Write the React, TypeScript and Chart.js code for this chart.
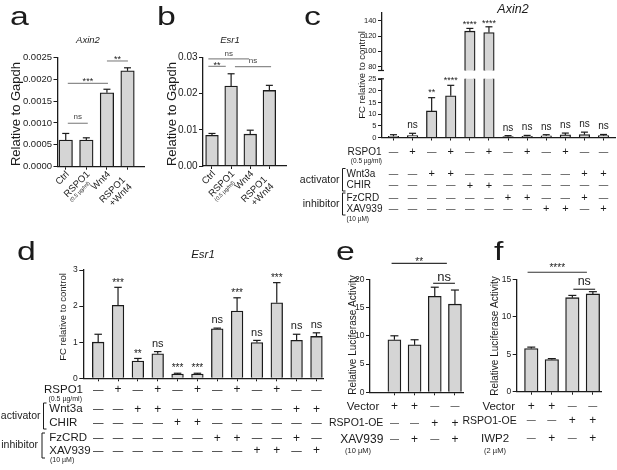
import React, { useEffect, useRef } from "react";
import { Chart, registerables } from "chart.js";

Chart.register(...registerables);

const W = 617;
const H = 470;
const SANS = '"Liberation Sans", Arial, Helvetica, sans-serif';
const INK = "#1b1b1b";
const BAR_FILL = "#d5d5d5";

// ---------------- data ----------------
const abCategories = ["Ctrl", "RSPO1", "Wnt4", "RSPO1\n+Wnt4"];
const abSubLabels = ["", "(0.5 µg/ml)", "", ""];

const aValues = [0.00061, 0.00061, 0.00169, 0.00219];
const aErrors = [0.00015, 0.00005, 0.00008, 0.00007];
const aTicks = [0, 0.0005, 0.001, 0.0015, 0.002, 0.0025];
const aBrackets = [
  { from: 0.1, to: 1.07, y: 0.000992, label: "ns" },
  { from: 0.1, to: 2.05, y: 0.001906, label: "***" },
  { from: 2.0, to: 3.02, y: 0.002416, label: "**" },
];

const bValues = [0.0085, 0.0221, 0.0088, 0.0209];
const bErrors = [0.0005, 0.0034, 0.0011, 0.0014];
const bTicks = [0, 0.01, 0.02, 0.03];
const bBrackets = [
  { from: -0.19, to: 1.94, y: 0.0296, label: "ns" },
  { from: -0.19, to: 0.72, y: 0.02755, label: "**" },
  { from: 1.2, to: 3.09, y: 0.02747, label: "ns" },
];

const cValues = [0.5, 0.8, 11.4, 17.9, 126.3, 124.5, 0.4, 0.5, 0.7, 1.1, 1.2, 0.8];
const cErrors = [0.7, 1.0, 5.7, 4.5, 3.6, 7.5, 0.4, 0.4, 0.5, 0.8, 1.1, 0.5];
const cSig = ["", "ns", "**", "****", "****", "****", "ns", "ns", "ns", "ns", "ns", "ns"];
const cLowerTicks = [0, 5, 10, 15, 20, 25];
const cUpperTicks = [80, 100, 120, 140];

const dValues = [1.0, 2.02, 0.48, 0.68, 0.12, 0.12, 1.37, 1.86, 0.99, 2.09, 1.05, 1.16];
const dErrors = [0.22, 0.5, 0.07, 0.06, 0.02, 0.02, 0.02, 0.37, 0.06, 0.56, 0.17, 0.1];
const dSig = ["", "***", "**", "ns", "***", "***", "ns", "***", "ns", "***", "ns", "ns"];
const dTicks = [0, 1, 2, 3];

const cdRowLabels = ["RSPO1", "Wnt3a", "CHIR", "FzCRD", "XAV939"];
const cdRSPO1 = ["-", "+", "-", "+", "-", "+", "-", "+", "-", "+", "-", "-"];
const cdWnt3a = ["-", "-", "+", "+", "-", "-", "-", "-", "-", "-", "+", "+"];
const cdCHIR = ["-", "-", "-", "-", "+", "+", "-", "-", "-", "-", "-", "-"];
const cdFzCRD = ["-", "-", "-", "-", "-", "-", "+", "+", "-", "-", "+", "-"];
const cdXAV939 = ["-", "-", "-", "-", "-", "-", "-", "-", "+", "+", "-", "+"];
const cdRowMarks = [cdRSPO1, cdWnt3a, cdCHIR, cdFzCRD, cdXAV939];
const rspoDose = "(0.5 µg/ml)";
const xavDose = "(10 µM)";

const eValues = [9.3, 8.4, 17.0, 15.6];
const eErrors = [0.7, 0.9, 1.6, 2.5];
const eTicks = [0, 5, 10, 15, 20];
const eBrackets = [
  { from: -0.14, to: 2.6, y: 22.83, label: "**" },
  { from: 1.92, to: 3.0, y: 19.29, label: "ns" },
];
const eRowLabels = ["Vector", "RSPO1-OE", "XAV939"];
const eVector = ["+", "+", "-", "-"];
const eRSPO1OE = ["-", "-", "+", "+"];
const eXAV939 = ["-", "+", "-", "+"];

const fValues = [5.75, 4.3, 12.55, 13.05];
const fErrors = [0.2, 0.12, 0.3, 0.3];
const fTicks = [0, 5, 10, 15];
const fBrackets = [
  { from: -0.18, to: 2.71, y: 15.94, label: "****" },
  { from: 2.05, to: 3.11, y: 13.67, label: "ns" },
];
const fRowLabels = ["Vector", "RSPO1-OE", "IWP2"];
const fVector = ["+", "+", "-", "-"];
const fRSPO1OE = ["-", "-", "+", "+"];
const fIWP2 = ["-", "+", "-", "+"];
const iwpDose = "(2 µM)";

// ---------------- layout helpers ----------------
const abLabelShift = [0, 0, 0, -8];

function line(ctx: any, x1: number, y1: number, x2: number, y2: number, color = INK, w = 1.2) {
  ctx.save();
  ctx.strokeStyle = color;
  ctx.lineWidth = w;
  ctx.beginPath();
  ctx.moveTo(x1, y1);
  ctx.lineTo(x2, y2);
  ctx.stroke();
  ctx.restore();
}

function txt(ctx: any, s: string, x: number, y: number, o: any) {
  ctx.save();
  ctx.font = `${o.style || "normal"} ${o.weight || "normal"} ${o.size}px ${SANS}`;
  ctx.fillStyle = o.color || INK;
  ctx.textAlign = o.align || "left";
  ctx.textBaseline = o.base || "middle";
  ctx.translate(x, y);
  if (o.rot) ctx.rotate(o.rot);
  if (o.hs) ctx.scale(o.hs, 1);
  ctx.fillText(s, 0, 0);
  ctx.restore();
}

function sigText(ctx: any, lab: string, x: number, yc: number, size: number, color = INK) {
  const star = lab.indexOf("*") >= 0;
  txt(ctx, lab, x, yc + (star ? size * 0.25 : -size * 0.08), { size, align: "center", color });
}

function panelLetter(ctx: any, s: string, x: number, baseline: number) {
  txt(ctx, s, x, baseline, { size: 26, base: "alphabetic", hs: 1.3 });
}

function squareBracket(ctx: any, x: number, y1: number, y2: number) {
  ctx.save();
  ctx.strokeStyle = INK;
  ctx.lineWidth = 1;
  ctx.beginPath();
  ctx.moveTo(x + 3, y1);
  ctx.lineTo(x, y1);
  ctx.lineTo(x, y2);
  ctx.lineTo(x + 3, y2);
  ctx.stroke();
  ctx.restore();
}

function drawMarks(ctx: any, xs: any, marks: string[], y: number, plus: number, dash: number) {
  marks.forEach((m, i) => {
    const x = xs.getPixelForValue(i);
    if (m === "+") txt(ctx, "+", x, y, { size: plus, align: "center" });
    else txt(ctx, "—", x, y, { size: dash, align: "center" });
  });
}

function drawRotLabels(ctx: any, xs: any, labels: string[], subs: string[], yTop: number) {
  labels.forEach((lab, i) => {
    const lines = lab.split("\n");
    const cx = xs.getPixelForValue(i) + 2;
    ctx.save();
    ctx.translate(cx, yTop);
    ctx.rotate(-Math.PI / 4);
    ctx.textAlign = "right";
    ctx.textBaseline = "middle";
    ctx.fillStyle = INK;
    ctx.font = `9.5px ${SANS}`;
    lines.forEach((ln, k) => ctx.fillText(ln, abLabelShift[i], k * 9.5));
    if (subs[i]) {
      ctx.font = `5.5px ${SANS}`;
      ctx.fillText(subs[i], abLabelShift[i] - 6, 7.5);
    }
    ctx.restore();
  });
}

function makeConfig(s: any) {
  const plugin = {
    id: "extras",
    afterDraw(chart: any) {
      const ctx = chart.ctx;
      const xs = chart.scales.x;
      const ys = chart.scales.y;
      s.values.forEach((v: number, i: number) => {
        const top = v + s.errors[i];
        if (v < s.yMin || top > s.yMax) return;
        const x = xs.getPixelForValue(i);
        const y0 = ys.getPixelForValue(v);
        const y1 = ys.getPixelForValue(top);
        line(ctx, x, y0, x, y1, INK, 1.2);
        line(ctx, x - s.capWidth / 2, y1, x + s.capWidth / 2, y1, INK, 1.2);
      });
      if (s.barSig) {
        s.barSig.forEach((lab: string, i: number) => {
          if (!lab) return;
          const v = s.values[i];
          const top = v + s.errors[i];
          if (v < s.yMin || top > s.yMax) return;
          sigText(ctx, lab, xs.getPixelForValue(i), ys.getPixelForValue(top) - s.barSigGap, lab === "ns" ? s.nsFont : s.starFont);
        });
      }
      if (s.brackets) {
        s.brackets.forEach((b: any) => {
          const y = ys.getPixelForValue(b.y);
          line(ctx, xs.getPixelForValue(b.from), y, xs.getPixelForValue(b.to), y, s.bracketColor, 1.2);
          const mid = xs.getPixelForValue((b.from + b.to) / 2);
          const isNs = b.label === "ns";
          sigText(ctx, b.label, mid, y - (isNs ? s.nsGap : s.starGap), isNs ? s.nsFont : s.starFont, isNs ? s.nsColor : INK);
        });
      }
      if (s.extra) s.extra(ctx, chart);
    },
  };
  return {
    type: "bar",
    data: {
      datasets: [
        {
          data: s.values.map((v: number, i: number) => ({ x: i, y: v })),
          backgroundColor: BAR_FILL,
          borderColor: INK,
          borderWidth: 1.3,
          barThickness: s.barWidth,
          clip: { left: false, right: false, top: 0, bottom: 0 },
        },
      ],
    },
    options: {
      responsive: false,
      animation: false,
      events: [],
      layout: { padding: { left: 0, top: s.area.top, right: W - s.area.right, bottom: H - s.area.bottom } },
      plugins: { legend: { display: false }, tooltip: { enabled: false }, title: { display: false } },
      scales: {
        x: {
          type: "linear",
          display: s.showX,
          min: s.xMin,
          max: s.xMax,
          offset: false,
          grid: { display: true, offset: false, drawOnChartArea: false, drawTicks: true, tickLength: 3, color: INK, tickColor: INK },
          border: { display: true, color: INK, width: 1.3, z: 1 },
          ticks: { display: false },
          afterBuildTicks: (sc: any) => {
            sc.ticks = s.values.map((_: number, i: number) => ({ value: i }));
          },
          afterFit: (sc: any) => {
            sc.height = 0;
          },
        },
        y: {
          type: "linear",
          min: s.yMin,
          max: s.yMax,
          grid: { drawOnChartArea: false, drawTicks: true, tickLength: 4, color: INK, tickColor: INK },
          border: { display: true, color: INK, width: 1.3, z: 1 },
          ticks: {
            padding: 1.5,
            color: "#222",
            autoSkip: false,
            font: { family: SANS, size: s.tickFont },
            callback: (v: any) => s.fmt(Number(v)),
          },
          afterBuildTicks: (sc: any) => {
            sc.ticks = s.yTicks.map((v: number) => ({ value: v }));
          },
          afterFit: (sc: any) => {
            sc.width = s.area.left;
          },
        },
      },
    },
    plugins: [plugin],
  };
}

function buildSpecs() {
  const specA = {
    area: { left: 57.5, right: 144, top: 57.3, bottom: 166.7 },
    xMin: -0.4, xMax: 3.8, yMin: 0, yMax: 0.0025, yTicks: aTicks,
    fmt: (v: number) => v.toFixed(4), tickFont: 9.5,
    values: aValues, errors: aErrors, barWidth: 13.5, capWidth: 7, showX: true,
    brackets: aBrackets, bracketColor: "#8c8c8c", nsColor: "#444", nsFont: 8, starFont: 9, nsGap: 5.5, starGap: 4,
    extra: (ctx: any, chart: any) => {
      panelLetter(ctx, "a", 10, 25);
      txt(ctx, "Axin2", 88, 40, { size: 9.5, style: "italic", align: "center" });
      txt(ctx, "Relative to Gapdh", 16, 114, { size: 13, rot: -Math.PI / 2, align: "center" });
      drawRotLabels(ctx, chart.scales.x, abCategories, abSubLabels, 173);
    },
  };
  const specB = {
    area: { left: 203, right: 286, top: 57.5, bottom: 166 },
    xMin: -0.47, xMax: 3.87, yMin: 0, yMax: 0.03, yTicks: bTicks,
    fmt: (v: number) => v.toFixed(2), tickFont: 10,
    values: bValues, errors: bErrors, barWidth: 12.7, capWidth: 7, showX: true,
    brackets: bBrackets, bracketColor: "#8c8c8c", nsColor: "#444", nsFont: 8, starFont: 9, nsGap: 5, starGap: 3.5,
    extra: (ctx: any, chart: any) => {
      panelLetter(ctx, "b", 157, 25);
      txt(ctx, "Esr1", 230, 40, { size: 9.5, style: "italic", align: "center" });
      txt(ctx, "Relative to Gapdh", 172, 114, { size: 13, rot: -Math.PI / 2, align: "center" });
      drawRotLabels(ctx, chart.scales.x, abCategories, abSubLabels, 172.5);
    },
  };
  const cX = { xMin: -0.6, xMax: 11.6 };
  const specCUpper = {
    area: { left: 382, right: 615, top: 13, bottom: 70.5 },
    ...cX, yMin: 75, yMax: 150, yTicks: cUpperTicks,
    fmt: (v: number) => String(v), tickFont: 7.5,
    values: cValues, errors: cErrors, barWidth: 10.5, capWidth: 7, showX: false,
    barSig: cSig, barSigGap: 6, nsFont: 10, starFont: 9,
    extra: (ctx: any) => {
      panelLetter(ctx, "c", 304, 25);
      txt(ctx, "Axin2", 513, 10, { size: 12.5, style: "italic", align: "center" });
      line(ctx, 378, 70.5, 384, 70.5, INK, 1.2);
    },
  };
  const specCLower = {
    area: { left: 382, right: 615, top: 78.8, bottom: 137.5 },
    ...cX, yMin: 0, yMax: 25.2, yTicks: cLowerTicks,
    fmt: (v: number) => String(v), tickFont: 7.5,
    values: cValues, errors: cErrors, barWidth: 10.5, capWidth: 7, showX: true,
    barSig: cSig, barSigGap: 7, nsFont: 10, starFont: 9,
    extra: (ctx: any, chart: any) => {
      const xs = chart.scales.x;
      line(ctx, 378, 78.8, 384, 78.8, INK, 1.2);
      txt(ctx, "FC relative to control", 362, 75, { size: 9.5, rot: -Math.PI / 2, align: "center" });
      const rowsY = [152.3, 174.3, 185.7, 198.3, 209.3];
      cdRowMarks.forEach((m, r) => drawMarks(ctx, xs, m, rowsY[r], 11, 9.5));
      txt(ctx, cdRowLabels[0], 381.5, rowsY[0], { size: 10, align: "right" });
      txt(ctx, rspoDose, 382, 161.7, { size: 6.5, align: "right" });
      for (let r = 1; r < 5; r++) txt(ctx, cdRowLabels[r], 346.5, rowsY[r], { size: 10 });
      txt(ctx, xavDose, 346.5, 219.3, { size: 6.5 });
      txt(ctx, "activator", 339.5, 180, { size: 10.5, align: "right" });
      txt(ctx, "inhibitor", 339.5, 203.8, { size: 10.5, align: "right" });
      squareBracket(ctx, 342.5, 168.5, 191);
      squareBracket(ctx, 342.5, 193, 215);
    },
  };
  const specD = {
    area: { left: 83.3, right: 323, top: 270, bottom: 378.3 },
    xMin: -0.75, xMax: 11.33, yMin: 0, yMax: 3, yTicks: dTicks,
    fmt: (v: number) => String(v), tickFont: 8.5,
    values: dValues, errors: dErrors, barWidth: 11.7, capWidth: 7.5, showX: true,
    barSig: dSig, barSigGap: 7, nsFont: 11, starFont: 10,
    extra: (ctx: any, chart: any) => {
      const xs = chart.scales.x;
      panelLetter(ctx, "d", 17, 260);
      txt(ctx, "Esr1", 203, 255, { size: 11.5, style: "italic", align: "center" });
      txt(ctx, "FC relative to control", 63, 317, { size: 9.5, rot: -Math.PI / 2, align: "center" });
      const rowsY = [390, 409.3, 422.7, 438.3, 451];
      cdRowMarks.forEach((m, r) => drawMarks(ctx, xs, m, rowsY[r], 12, 10.5));
      txt(ctx, cdRowLabels[0], 83, rowsY[0], { size: 11.5, align: "right" });
      txt(ctx, rspoDose, 82, 398.7, { size: 7, align: "right" });
      for (let r = 1; r < 5; r++) txt(ctx, cdRowLabels[r], 49.3, rowsY[r], { size: 11.5 });
      txt(ctx, xavDose, 50, 460.5, { size: 7 });
      txt(ctx, "activator", 40.5, 416, { size: 10.5, align: "right" });
      txt(ctx, "inhibitor", 38, 444.7, { size: 10.5, align: "right" });
      squareBracket(ctx, 43.5, 403, 429);
      squareBracket(ctx, 42, 433, 458);
    },
  };
  const specE = {
    area: { left: 370, right: 463, top: 279.3, bottom: 392.3 },
    xMin: -1.21, xMax: 3.4, yMin: 0, yMax: 20, yTicks: eTicks,
    fmt: (v: number) => String(v), tickFont: 8.5,
    values: eValues, errors: eErrors, barWidth: 13, capWidth: 8, showX: true,
    brackets: eBrackets, bracketColor: "#333", nsColor: INK, nsFont: 13, starFont: 10, nsGap: 5.3, starGap: 3.3,
    extra: (ctx: any, chart: any) => {
      const xs = chart.scales.x;
      panelLetter(ctx, "e", 336, 260);
      txt(ctx, "Relative Luciferase Activity", 353, 335, { size: 10, rot: -Math.PI / 2, align: "center" });
      const rowsY = [406.7, 423.3, 440];
      [eVector, eRSPO1OE, eXAV939].forEach((m, r) => drawMarks(ctx, xs, m, rowsY[r], 12, 9));
      txt(ctx, eRowLabels[0], 379.3, rowsY[0], { size: 11.5, align: "right" });
      txt(ctx, eRowLabels[1], 383.3, rowsY[1], { size: 10.5, align: "right" });
      txt(ctx, eRowLabels[2], 383.3, rowsY[2], { size: 12, align: "right" });
      txt(ctx, xavDose, 358, 450.5, { size: 7.5, align: "center" });
    },
  };
  const specF = {
    area: { left: 516.7, right: 601.7, top: 279.3, bottom: 391.7 },
    xMin: -0.71, xMax: 3.43, yMin: 0, yMax: 15, yTicks: fTicks,
    fmt: (v: number) => String(v), tickFont: 8.5,
    values: fValues, errors: fErrors, barWidth: 13.5, capWidth: 8, showX: true,
    brackets: fBrackets, bracketColor: "#333", nsColor: INK, nsFont: 12.5, starFont: 10, nsGap: 6.6, starGap: 7,
    extra: (ctx: any, chart: any) => {
      const xs = chart.scales.x;
      panelLetter(ctx, "f", 494, 260);
      txt(ctx, "Relative Luciferase Activity", 495, 336, { size: 10, rot: -Math.PI / 2, align: "center" });
      const rowsY = [406.7, 420.7, 439];
      [fVector, fRSPO1OE, fIWP2].forEach((m, r) => drawMarks(ctx, xs, m, rowsY[r], 12, 9));
      txt(ctx, fRowLabels[0], 515, rowsY[0], { size: 11.5, align: "right" });
      txt(ctx, fRowLabels[1], 516.7, rowsY[1], { size: 10.5, align: "right" });
      txt(ctx, fRowLabels[2], 495, rowsY[2], { size: 11.5, align: "center" });
      txt(ctx, iwpDose, 495, 450.5, { size: 7.5, align: "center" });
    },
  };
  return [specA, specB, specCUpper, specCLower, specD, specE, specF];
}

export default function App() {
  const refs = useRef<(HTMLCanvasElement | null)[]>([]);
  useEffect(() => {
    const specs = buildSpecs();
    const charts = specs.map((s, i) => new Chart(refs.current[i] as HTMLCanvasElement, makeConfig(s) as any));
    return () => charts.forEach((c) => c.destroy());
  }, []);
  return (
    <div style={{ position: "fixed", left: 0, top: 0, width: W, height: H, background: "#fff" }}>
      {Array.from({ length: 7 }).map((_, i) => (
        <canvas
          key={i}
          ref={(el) => {
            refs.current[i] = el;
          }}
          width={W}
          height={H}
          style={{ position: "absolute", left: 0, top: 0, width: W, height: H }}
        />
      ))}
    </div>
  );
}
